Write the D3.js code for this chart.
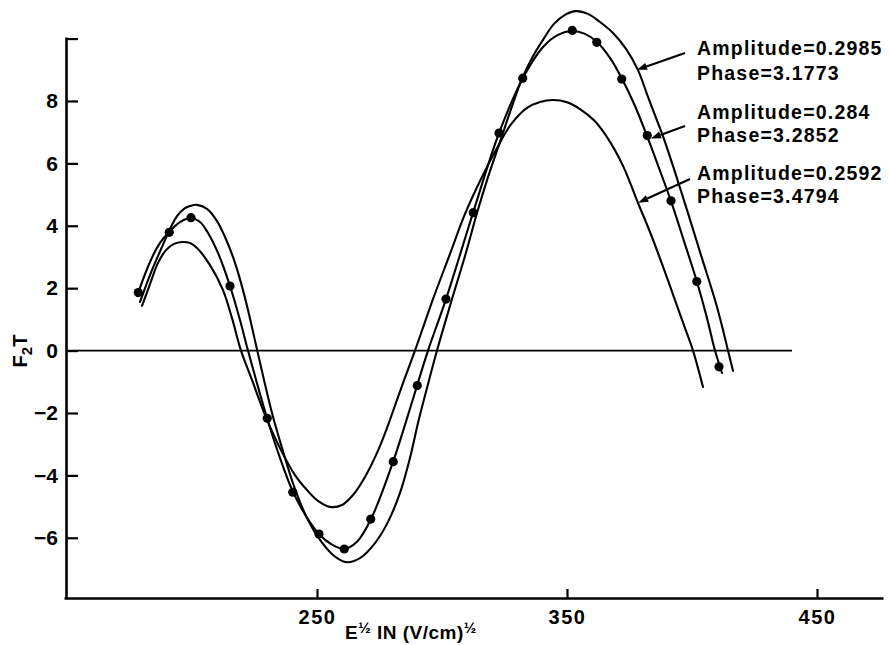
<!DOCTYPE html>
<html>
<head>
<meta charset="utf-8">
<script src="https://cdn.jsdelivr.net/npm/d3@7"></script>
<style>
  html, body { margin: 0; padding: 0; background: #fff; }
  svg { display: block; font-family: "Liberation Sans", Arial, Helvetica, sans-serif; font-weight: bold; }
</style>
</head>
<body>
<svg id="chart" width="889" height="645"></svg>
<script>
// Measured F2T values against E^1/2 (V/cm)^1/2
const measuredX = [178.5, 190.9, 199.6, 215.2, 230.1, 240.3, 250.8, 260.9, 271.5, 280.5, 290.1,
                   301.6, 312.5, 322.8, 332.3, 352.1, 361.9, 371.9, 382.1, 391.6, 401.9, 410.8];
const measuredY = [1.86, 3.79, 4.26, 2.07, -2.17, -4.54, -5.88, -6.36, -5.40, -3.56, -1.12,
                   1.65, 4.42, 6.97, 8.73, 10.26, 9.88, 8.70, 6.89, 4.80, 2.21, -0.52];

// Fitted curve, amplitude 0.2985
const fitAX = [179.2, 183.2, 186.4, 189.2, 191.6, 194.0, 196.8, 199.2, 202.0, 206.0, 210.0, 213.2, 216.4,
               219.6, 222.4, 225.6, 228.8, 232.0, 236.0, 241.2, 246.4, 251.2, 256.4, 261.6, 267.2, 273.2,
               278.4, 283.2, 287.2, 290.4, 294.0, 298.0, 304.0, 309.2, 314.0, 318.4, 323.2, 327.6, 332.0,
               336.0, 340.4, 344.8, 349.2, 353.6, 358.4, 363.2, 368.4, 373.6, 378.4, 382.4, 385.6, 388.8,
               393.2, 398.0, 403.6, 409.2, 412.0, 414.4, 416.4];
const fitAY = [1.56, 2.42, 3.03, 3.54, 3.96, 4.31, 4.54, 4.63, 4.67, 4.54, 4.15, 3.64, 3.00,
               2.17, 1.30, 0.18, -0.94, -2.00, -3.12, -4.44, -5.43, -6.07, -6.55, -6.78, -6.65, -6.17,
               -5.49, -4.56, -3.44, -2.32, -1.20, 0.00, 1.65, 3.03, 4.41, 5.56, 6.69, 7.74, 8.71,
               9.38, 9.96, 10.47, 10.76, 10.88, 10.79, 10.53, 10.18, 9.67, 8.99, 8.13, 7.46, 6.78,
               5.72, 4.51, 3.06, 1.62, 0.79, 0.00, -0.65];

// Fitted curve, amplitude 0.284
const fitBX = [178.0, 183.2, 187.2, 190.8, 195.2, 199.6, 203.2, 206.4, 210.4, 215.2, 219.2, 222.4, 230.0,
               235.2, 240.4, 245.6, 250.8, 255.6, 260.8, 266.0, 271.6, 280.4, 285.2, 290.0, 294.4, 301.6,
               312.4, 322.8, 332.4, 340.4, 346.4, 352.0, 357.2, 362.0, 367.2, 372.0, 377.2, 382.0, 386.8,
               391.6, 396.8, 402.0, 406.0, 409.2, 412.0];
const fitBY = [1.75, 2.84, 3.45, 3.80, 4.12, 4.25, 4.12, 3.77, 3.13, 2.07, 0.98, 0.00, -2.16,
               -3.44, -4.53, -5.30, -5.88, -6.20, -6.36, -6.13, -5.40, -3.57, -2.38, -1.13, 0.00, 1.65,
               4.41, 6.97, 8.74, 9.73, 10.12, 10.24, 10.15, 9.89, 9.38, 8.71, 7.84, 6.88, 5.85,
               4.79, 3.51, 2.20, 1.04, 0.00, -0.72];

// Fitted curve, amplitude 0.2592
const fitCX = [180.0, 183.2, 186.4, 189.6, 192.8, 196.0, 199.2, 202.0, 207.2, 212.4, 216.0, 219.6, 224.0,
               229.2, 235.6, 241.2, 246.0, 250.4, 255.2, 260.0, 264.4, 269.2, 274.0, 278.0, 282.0, 285.6,
               289.2, 293.2, 296.4, 303.2, 309.2, 315.6, 322.0, 327.6, 334.0, 339.2, 344.4, 350.0, 355.2,
               360.8, 366.0, 372.4, 378.4, 383.2, 388.0, 393.2, 397.2, 400.4, 404.4];
const fitCY = [1.43, 2.13, 2.81, 3.22, 3.42, 3.48, 3.45, 3.29, 2.74, 1.94, 1.04, 0.00, -0.94,
               -2.06, -3.19, -3.99, -4.47, -4.82, -5.01, -4.95, -4.63, -4.05, -3.28, -2.48, -1.58, -0.78,
               0.00, 0.92, 1.65, 3.10, 4.38, 5.50, 6.49, 7.25, 7.78, 7.97, 8.03, 7.96, 7.74,
               7.38, 6.84, 5.92, 4.73, 3.80, 2.78, 1.62, 0.72, 0.00, -1.17];

// Fit parameters shown in the annotations
const amplitudes = ["0.2985", "0.284", "0.2592"];
const phases = ["3.1773", "3.2852", "3.4794"];
// Point on each curve where its annotation arrow lands
const arrowTipX = [378.0, 383.6, 378.5];
const arrowTipY = [9.00, 6.80, 4.74];

const yTicks = [-6, -4, -2, 0, 2, 4, 6, 8, 10];
const xTicks = [250, 350, 450];

const zip = (xs, ys) => xs.map((v, i) => [v, ys[i]]);
const curves = [zip(fitAX, fitAY), zip(fitBX, fitBY), zip(fitCX, fitCY)];
const points = zip(measuredX, measuredY);

const svg = d3.select("#chart");

const x = d3.scaleLinear().domain([148.8, 476.4]).range([64, 883]);
const y = d3.scaleLinear().domain([-7.93, 10.05]).range([598, 37]);

// Axes
const yAxis = d3.axisLeft(y)
  .tickValues(yTicks)
  .tickSizeInner(-12)
  .tickSizeOuter(0)
  .tickPadding(8)
  .tickFormat(d => d === 10 ? "" : (d < 0 ? "\u2212" + (-d) : String(d)));

const gy = svg.append("g").attr("transform", "translate(66,0)").call(yAxis);
gy.select(".domain").attr("stroke", "#000").attr("stroke-width", 2.6);
gy.selectAll(".tick line").attr("stroke", "#000").attr("stroke-width", 2.2);
gy.selectAll(".tick text").attr("fill", "#000").attr("font-size", 21)
  .attr("font-family", "'Liberation Sans', Arial, sans-serif").attr("font-weight", "bold");

const xAxis = d3.axisBottom(x)
  .tickValues(xTicks)
  .tickSizeInner(-9)
  .tickSizeOuter(0)
  .tickPadding(12);

const gx = svg.append("g").attr("transform", "translate(0,598)").call(xAxis);
gx.select(".domain").attr("stroke", "#000").attr("stroke-width", 2.4);
gx.selectAll(".tick line").attr("stroke", "#000").attr("stroke-width", 2.2);
gx.selectAll(".tick text").attr("fill", "#000").attr("font-size", 20)
  .attr("letter-spacing", 1.5)
  .attr("font-family", "'Liberation Sans', Arial, sans-serif").attr("font-weight", "bold");

// Zero reference line
svg.append("line")
  .attr("x1", 66).attr("x2", x(440))
  .attr("y1", y(0)).attr("y2", y(0))
  .attr("stroke", "#000").attr("stroke-width", 1.8);

// Fitted curves
const line = d3.line()
  .x(d => x(d[0]))
  .y(d => y(d[1]))
  .curve(d3.curveCatmullRom.alpha(0.5));

svg.append("g").selectAll("path")
  .data(curves)
  .join("path")
  .attr("d", line)
  .attr("fill", "none")
  .attr("stroke", "#000")
  .attr("stroke-width", 2.1)
  .attr("stroke-linecap", "round");

// Measured points
svg.append("g").selectAll("circle")
  .data(points)
  .join("circle")
  .attr("cx", d => x(d[0]))
  .attr("cy", d => y(d[1]))
  .attr("r", 4.6)
  .attr("fill", "#000");

// Annotations with arrows
const labelX = 697;
const ampBaselines = [55, 119, 180];
const phaseGap = [25, 23, 23];
const arrowTails = [[685, 53], [685, 126], [690, 179]];

const ann = svg.append("g").attr("font-size", 19.5).attr("letter-spacing", 1.2).attr("fill", "#000");
amplitudes.forEach((a, i) => {
  ann.append("text").attr("x", labelX).attr("y", ampBaselines[i]).text("Amplitude=" + a);
  ann.append("text").attr("x", labelX).attr("y", ampBaselines[i] + phaseGap[i]).text("Phase=" + phases[i]);

  const [tx0, ty0] = arrowTails[i];
  const tx = x(arrowTipX[i]), ty = y(arrowTipY[i]);
  const ang = Math.atan2(ty - ty0, tx - tx0);
  const len = 10, hw = 3.6;
  const bx = tx - len * Math.cos(ang), by = ty - len * Math.sin(ang);
  ann.append("line")
    .attr("x1", tx0).attr("y1", ty0).attr("x2", bx).attr("y2", by)
    .attr("stroke", "#000").attr("stroke-width", 2.2);
  ann.append("path")
    .attr("d", `M${tx},${ty}L${bx - hw * Math.sin(ang)},${by + hw * Math.cos(ang)}L${bx + hw * Math.sin(ang)},${by - hw * Math.cos(ang)}Z`)
    .attr("fill", "#000");
});

// Axis titles
const yTitle = svg.append("text")
  .attr("transform", "translate(27,351) rotate(-90)")
  .attr("text-anchor", "middle")
  .attr("font-size", 20)
  .attr("fill", "#000");
yTitle.append("tspan").text("F");
yTitle.append("tspan").attr("dy", 5).attr("font-size", 15).text("2");
yTitle.append("tspan").attr("dy", -5).text("T");

const xTitle = svg.append("text")
  .attr("x", 345).attr("y", 639)
  .attr("font-size", 19)
  .attr("letter-spacing", 0.5)
  .attr("fill", "#000");
xTitle.append("tspan").text("E");
xTitle.append("tspan").attr("dy", -6).attr("font-size", 15).text("\u00BD");
xTitle.append("tspan").attr("dy", 6).text(" IN (V/cm)");
xTitle.append("tspan").attr("dy", -6).attr("font-size", 15).text("\u00BD");
</script>
</body>
</html>
